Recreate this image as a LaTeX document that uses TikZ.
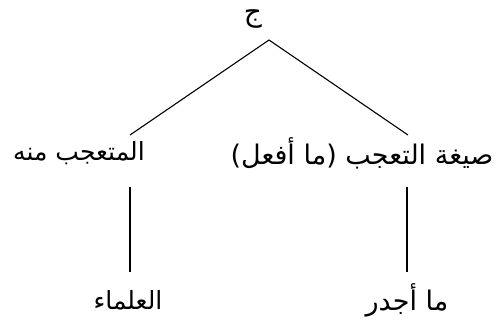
\documentclass[tikz,border=0pt]{standalone}
\usepackage{fontspec}
\TeXXeTstate=1
\newfontfamily\arabicfont[Script=Arabic]{DejaVu Sans}
\begin{document}
\begin{tikzpicture}[x=1pt,y=-1pt,
  lbl/.style={inner sep=0pt,font=\arabicfont\fontsize{25}{30}\selectfont},
  wide/.style={font=\arabicfont\fontsize{27}{32}\selectfont},
  edge/.style={line width=1.1pt,black}]
\useasboundingbox (0,0) rectangle (497,322);
\node[lbl,font=\arabicfont\fontsize{28}{32}\selectfont] (root) at (253,19) {\beginR ج\endR};
\node[lbl] (left) at (79,153) {\beginR المتعجب منه\endR};
\node[lbl,wide] (right) at (362,153) {\beginR صيغة التعجب (ما أفعل)\endR};
\node[lbl] (bl) at (128,300) {\beginR العلماء\endR};
\node[lbl,wide] (br) at (407,300) {\beginR ما أجدر\endR};
\coordinate (apex) at (269,40);
\coordinate (lt) at (130,135);
\coordinate (rt) at (408,135);
\coordinate (lv1) at (130,187);
\coordinate (lv2) at (130,272);
\coordinate (rv1) at (407,187);
\coordinate (rv2) at (407,272);
\draw[edge] (lt) -- (apex) -- (rt);
\draw[edge] (lv1) -- (lv2);
\draw[edge] (rv1) -- (rv2);
\end{tikzpicture}
\end{document}
